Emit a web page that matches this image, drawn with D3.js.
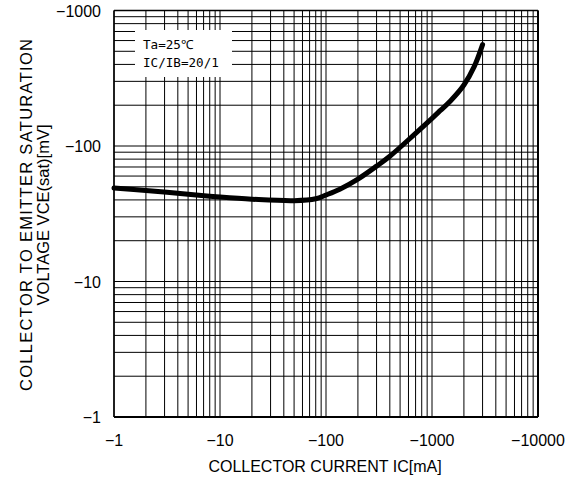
<!DOCTYPE html>
<meta charset="utf-8">
<style>
    body { margin: 0; background: #fff; }
    text { font-family: "Liberation Sans", Arial, sans-serif; fill: #000; }
    .grid line { stroke: #000; stroke-width: 1; }
</style>
<body>
<script src="https://cdn.jsdelivr.net/npm/d3@7"></script>
<script>
    var width = 576
    var height = 479
    var margin = { top: 10.5, right: 38, bottom: 62, left: 114 }

    // collector current IC [mA] (shown as negative values)
    var current = [1, 2, 5, 10, 20, 50, 80, 100, 135, 200, 300, 400, 700, 1000, 1200, 1500, 2000, 2500, 3000]
    // VCE(sat) [mV]
    var vcesat = [49, 47, 44, 42, 40.5, 39.5, 40.8, 43.5, 48, 57, 71, 84, 124, 160, 183, 216, 282, 385, 560]

    var xTicks = [1, 10, 100, 1000, 10000]
    var yTicks = [1, 10, 100, 1000]
    var legendLines = ['Ta=25\u2103', 'IC/IB=20/1']

    var data = current.map(function (d, i) { return { x: d, y: vcesat[i] } })

    var svg = d3.select('body').append('svg')
        .attr('width', width)
        .attr('height', height)

    var x = d3.scaleLog().domain([1, 10000]).range([margin.left, width - margin.right])
    var y = d3.scaleLog().domain([1, 1000]).range([height - margin.bottom, margin.top])

    function minors(lo, hi) {
        var out = []
        for (var p = lo; p < hi; p *= 10) {
            for (var k = 1; k < 10; k++) out.push(p * k)
        }
        out.push(hi)
        return out
    }

    var grid = svg.append('g').attr('class', 'grid')

    grid.selectAll('.vx')
        .data(minors(1, 10000))
        .enter().append('line')
        .attr('x1', function (d) { return x(d) })
        .attr('x2', function (d) { return x(d) })
        .attr('y1', y(1000))
        .attr('y2', y(1))

    grid.selectAll('.hy')
        .data(minors(1, 1000))
        .enter().append('line')
        .attr('y1', function (d) { return y(d) })
        .attr('y2', function (d) { return y(d) })
        .attr('x1', x(1))
        .attr('x2', x(10000))

    // frame
    svg.append('line').attr('x1', x(1)).attr('x2', x(10000)).attr('y1', y(1)).attr('y2', y(1))
        .attr('stroke', '#000').attr('stroke-width', 2)
    svg.append('line').attr('x1', x(10000)).attr('x2', x(10000)).attr('y1', y(1)).attr('y2', y(1000))
        .attr('stroke', '#000').attr('stroke-width', 2)
    svg.append('line').attr('x1', x(1)).attr('x2', x(1)).attr('y1', y(1)).attr('y2', y(1000))
        .attr('stroke', '#000').attr('stroke-width', 1.5)
    svg.append('line').attr('x1', x(1)).attr('x2', x(10000)).attr('y1', y(1000)).attr('y2', y(1000))
        .attr('stroke', '#000').attr('stroke-width', 1.5)

    // legend box
    var lg = svg.append('g')
    lg.append('rect')
        .attr('x', 135).attr('y', 30)
        .attr('width', 97).attr('height', 47)
        .attr('fill', '#fff')
    lg.selectAll('text')
        .data(legendLines)
        .enter().append('text')
        .attr('x', 143)
        .attr('y', function (d, i) { return 49 + i * 18 })
        .style('font-family', '"DejaVu Sans Mono", monospace')
        .style('font-size', '12.6px')
        .text(function (d) { return d })

    // curve
    var line = d3.line()
        .x(function (d) { return x(d.x) })
        .y(function (d) { return y(d.y) })
        .curve(d3.curveCatmullRom.alpha(0.5))

    svg.append('path')
        .datum(data)
        .attr('d', line)
        .attr('fill', 'none')
        .attr('stroke', '#000')
        .attr('stroke-width', 5)
        .attr('stroke-linecap', 'round')

    // tick labels
    svg.selectAll('.xl')
        .data(xTicks)
        .enter().append('text')
        .attr('x', function (d) { return x(d) })
        .attr('y', 446)
        .attr('text-anchor', 'middle')
        .style('font-size', '16px')
        .text(function (d) { return '\u2212' + d })

    svg.selectAll('.yl')
        .data(yTicks)
        .enter().append('text')
        .attr('x', 101)
        .attr('y', function (d) { return y(d) + 6 })
        .attr('text-anchor', 'end')
        .style('font-size', '16px')
        .text(function (d) { return '\u2212' + d })

    // axis titles
    svg.append('text')
        .attr('x', 325)
        .attr('y', 472)
        .attr('text-anchor', 'middle')
        .style('font-size', '16px')
        .text('COLLECTOR CURRENT IC[mA]')

    var yt = svg.append('g').attr('transform', 'translate(0,215) rotate(-90)')
    yt.append('text')
        .attr('x', 0).attr('y', 32)
        .attr('text-anchor', 'middle')
        .attr('textLength', 352)
        .attr('lengthAdjust', 'spacing')
        .style('font-size', '16.5px')
        .text('COLLECTOR TO EMITTER SATURATION')
    yt.append('text')
        .attr('x', 0).attr('y', 49)
        .attr('text-anchor', 'middle')
        .style('font-size', '16.5px')
        .text('VOLTAGE VCE(sat)[mV]')
</script>
</body>
